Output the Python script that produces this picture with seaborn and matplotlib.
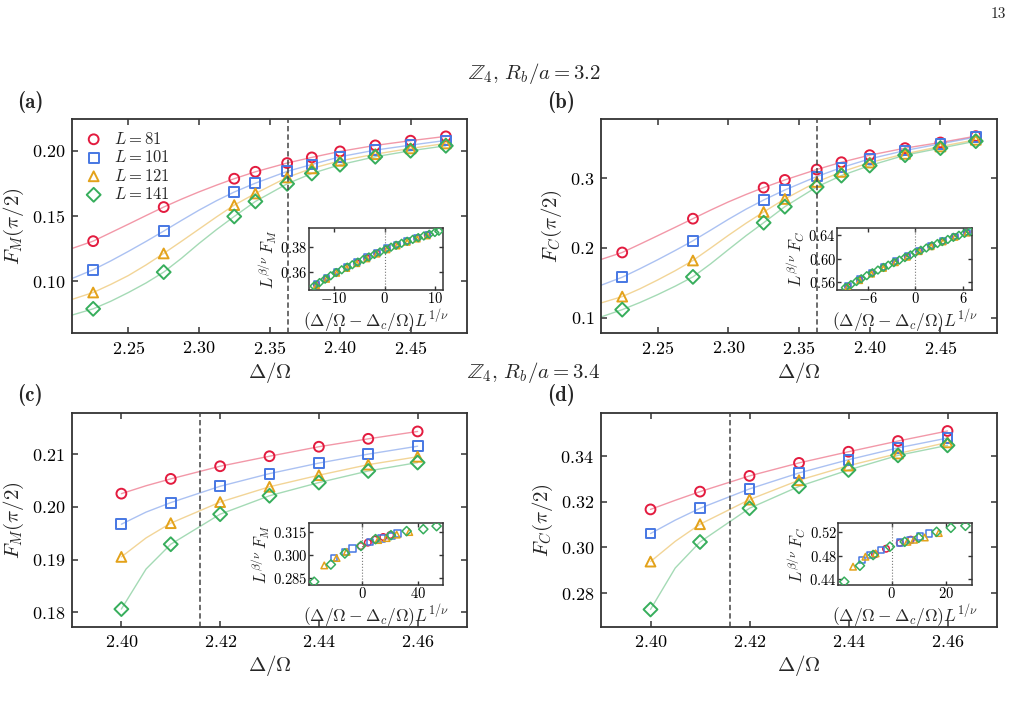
import matplotlib
matplotlib.use("Agg")
import matplotlib.pyplot as plt
import seaborn as sns

# =========================
# data
# =========================
sizes = [81, 101, 121, 141]
colors = ["#E31B3F", "#4677E3", "#E3A21A", "#37AE5C"]
markers = ["o", "s", "^", "D"]

# Z4, Rb/a = 3.2  (panels a, b)
delta_32 = [2.225, 2.275, 2.325, 2.34, 2.3625, 2.38, 2.40, 2.425, 2.45, 2.475]
fm_32 = [
    [0.1308, 0.1569, 0.1786, 0.1839, 0.1906, 0.1949, 0.1995, 0.2041, 0.2077, 0.2110],
    [0.1089, 0.1385, 0.1684, 0.1752, 0.1842, 0.1895, 0.1954, 0.2005, 0.2043, 0.2079],
    [0.0915, 0.1214, 0.1584, 0.1673, 0.1796, 0.1865, 0.1923, 0.1974, 0.2018, 0.2056],
    [0.0790, 0.1071, 0.1497, 0.1612, 0.1747, 0.1826, 0.1893, 0.1954, 0.2000, 0.2038],
]
fc_32 = [
    [0.1935, 0.2420, 0.2866, 0.2976, 0.3125, 0.3230, 0.3331, 0.3432, 0.3513, 0.3604],
    [0.1580, 0.2103, 0.2688, 0.2832, 0.3024, 0.3153, 0.3278, 0.3398, 0.3494, 0.3590],
    [0.1302, 0.1820, 0.2516, 0.2703, 0.2947, 0.3091, 0.3225, 0.3350, 0.3456, 0.3552],
    [0.1115, 0.1585, 0.2362, 0.2592, 0.2875, 0.3038, 0.3182, 0.3331, 0.3432, 0.3532],
]
fit_x_32 = [2.21, 2.225, 2.2375, 2.25, 2.2625, 2.275, 2.2875, 2.30, 2.3125, 2.325, 2.34,
            2.3625, 2.38, 2.40, 2.425, 2.45, 2.475]
fm_fit_32 = [
    [0.1252, 0.1308, 0.1373, 0.1438, 0.1504, 0.1569, 0.1629, 0.1685, 0.1737, 0.1786, 0.1839,
     0.1906, 0.1949, 0.1995, 0.2041, 0.2077, 0.2110],
    [0.1022, 0.1089, 0.1157, 0.1230, 0.1306, 0.1385, 0.1466, 0.1545, 0.1618, 0.1684, 0.1752,
     0.1842, 0.1895, 0.1954, 0.2005, 0.2043, 0.2079],
    [0.0862, 0.0915, 0.0977, 0.1045, 0.1126, 0.1214, 0.1306, 0.1400, 0.1494, 0.1584, 0.1673,
     0.1796, 0.1865, 0.1923, 0.1974, 0.2018, 0.2056],
    [0.0742, 0.0790, 0.0848, 0.0915, 0.0988, 0.1071, 0.1176, 0.1290, 0.1397, 0.1497, 0.1612,
     0.1747, 0.1826, 0.1893, 0.1954, 0.2000, 0.2038],
]
fc_fit_32 = [
    [0.1835, 0.1935, 0.2054, 0.2175, 0.2297, 0.2420, 0.2543, 0.2660, 0.2767, 0.2866, 0.2976,
     0.3125, 0.3230, 0.3331, 0.3432, 0.3513, 0.3604],
    [0.1465, 0.1580, 0.1702, 0.1830, 0.1964, 0.2103, 0.2255, 0.2410, 0.2556, 0.2688, 0.2832,
     0.3024, 0.3153, 0.3278, 0.3398, 0.3494, 0.3590],
    [0.1211, 0.1302, 0.1414, 0.1540, 0.1674, 0.1820, 0.1998, 0.2180, 0.2354, 0.2516, 0.2703,
     0.2947, 0.3091, 0.3225, 0.3350, 0.3456, 0.3552],
    [0.1010, 0.1115, 0.1217, 0.1330, 0.1452, 0.1585, 0.1772, 0.1975, 0.2175, 0.2362, 0.2592,
     0.2875, 0.3038, 0.3182, 0.3331, 0.3432, 0.3532],
]
dc_32 = 2.363

# Z4, Rb/a = 3.4  (panels c, d)
delta_34 = [2.40, 2.41, 2.42, 2.43, 2.44, 2.45, 2.46]
fm_34 = [
    [0.2025, 0.2053, 0.2077, 0.2096, 0.2114, 0.2129, 0.2143],
    [0.1967, 0.2008, 0.2039, 0.2063, 0.2083, 0.2100, 0.2115],
    [0.1905, 0.1969, 0.2009, 0.2038, 0.2060, 0.2080, 0.2095],
    [0.1806, 0.1929, 0.1986, 0.2021, 0.2046, 0.2068, 0.2084],
]
fc_34 = [
    [0.3167, 0.3245, 0.3314, 0.3371, 0.3420, 0.3467, 0.3511],
    [0.3061, 0.3172, 0.3257, 0.3327, 0.3385, 0.3437, 0.3480],
    [0.2938, 0.3102, 0.3210, 0.3295, 0.3359, 0.3412, 0.3461],
    [0.2728, 0.3024, 0.3172, 0.3268, 0.3340, 0.3404, 0.3448],
]
fit_x_34 = [2.40, 2.405, 2.41, 2.42, 2.43, 2.44, 2.45, 2.46]
fm_fit_34 = [
    [0.2025, 0.2040, 0.2053, 0.2077, 0.2096, 0.2114, 0.2129, 0.2143],
    [0.1967, 0.1990, 0.2008, 0.2039, 0.2063, 0.2083, 0.2100, 0.2115],
    [0.1905, 0.1941, 0.1969, 0.2009, 0.2038, 0.2060, 0.2080, 0.2095],
    [0.1806, 0.1882, 0.1929, 0.1986, 0.2021, 0.2046, 0.2068, 0.2084],
]
fc_fit_34 = [
    [0.3167, 0.3207, 0.3245, 0.3314, 0.3371, 0.3420, 0.3467, 0.3511],
    [0.3061, 0.3120, 0.3172, 0.3257, 0.3327, 0.3385, 0.3437, 0.3480],
    [0.2938, 0.3027, 0.3102, 0.3210, 0.3295, 0.3359, 0.3412, 0.3461],
    [0.2728, 0.2910, 0.3024, 0.3172, 0.3268, 0.3340, 0.3404, 0.3448],
]
dc_34 = 2.416

# inset (a): scaling collapse of F_M
ins_a_x = [-14.0, -12.9, -11.8, -10.7, -9.6, -8.5, -7.4, -6.4, -5.3, -4.2, -3.1, -2.0,
           -0.9, 0.2, 1.3, 2.3, 3.4, 4.5, 5.6, 6.7, 7.8, 8.9, 10.0, 10.8]
ins_a_y = [0.3485, 0.3513, 0.3540, 0.3567, 0.3593, 0.3615, 0.3636, 0.3655, 0.3676, 0.3697,
           0.3717, 0.3737, 0.3757, 0.3777, 0.3795, 0.3810, 0.3826, 0.3842, 0.3857, 0.3871,
           0.3884, 0.3898, 0.3912, 0.3922]
ins_a_xo = [-13.5, -11.5, -9.5, -7.5, -5.5, -3.5, -1.5, 0.5, 2.5, 4.5, 6.5, 8.5]
ins_a_red = [0.3498, 0.3547, 0.3595, 0.3634, 0.3672, 0.3710, 0.3748, 0.3782, 0.3813, 0.3842, 0.3868, 0.3893]
ins_a_blue = [0.3505, 0.3554, 0.3601, 0.3640, 0.3678, 0.3716, 0.3753, 0.3787, 0.3817, 0.3846, 0.3871, 0.3896]
ins_a_orange = [0.3490, 0.3539, 0.3587, 0.3626, 0.3664, 0.3702, 0.3740, 0.3774, 0.3805, 0.3834, 0.3860, 0.3885]

# inset (b): scaling collapse of F_C
ins_b_x = [-8.8, -8.1, -7.4, -6.8, -6.1, -5.4, -4.7, -4.0, -3.4, -2.7, -2.0, -1.3,
           -0.6, 0.0, 0.7, 1.4, 2.1, 2.8, 3.4, 4.1, 4.8, 5.5, 6.2, 6.9]
ins_b_y = [0.5509, 0.5561, 0.5613, 0.5659, 0.5711, 0.5760, 0.5806, 0.5850, 0.5888, 0.5931,
           0.5974, 0.6016, 0.6061, 0.6100, 0.6140, 0.6178, 0.6216, 0.6254, 0.6286, 0.6322,
           0.6358, 0.6392, 0.6424, 0.6456]
ins_b_xo = [-8.5, -7.0, -5.5, -4.0, -2.5, -1.0, 0.5, 2.0, 3.5, 5.0, 6.5]
ins_b_red = [0.5532, 0.5643, 0.5753, 0.5850, 0.5944, 0.6035, 0.6129, 0.6211, 0.6291, 0.6368, 0.6438]
ins_b_blue = [0.5546, 0.5657, 0.5766, 0.5862, 0.5955, 0.6045, 0.6138, 0.6219, 0.6298, 0.6374, 0.6443]
ins_b_orange = [0.5518, 0.5628, 0.5738, 0.5835, 0.5930, 0.6022, 0.6117, 0.6200, 0.6281, 0.6359, 0.6430]

# inset (c)
ins_c_x = [
    [-1.0, 4.0, 9.0, 15.0, 20.0],
    [-20.0, -12.4, -7.1, 5.5, 13.9, 21.0, 25.3],
    [-27.1, -18.3, -11.1, 11.4, 17.4, 24.6, 33.6],
    [-34.3, -22.4, -12.4, -0.9, 9.5, 20.5, 31.7, 43.6, 53.1],
]
ins_c_y = [
    [0.3060, 0.3083, 0.3103, 0.3120, 0.3133],
    [0.2981, 0.3020, 0.3044, 0.3088, 0.3110, 0.3127, 0.3143],
    [0.2932, 0.2981, 0.3022, 0.3100, 0.3113, 0.3136, 0.3153],
    [0.2824, 0.2938, 0.3011, 0.3061, 0.3106, 0.3132, 0.3159, 0.3172, 0.3192],
]
# inset (d)
ins_d_x = [
    [-6.0, -2.0, 3.0, 7.0],
    [-10.7, -7.9, -3.9, 3.0, 6.7, 10.4, 13.6],
    [-14.0, -9.5, -5.8, 5.8, 8.2, 12.1, 17.2],
    [-17.2, -11.5, -6.7, -0.6, 4.8, 9.9, 16.4, 21.6, 26.9],
]
ins_d_y = [
    [0.4825, 0.4920, 0.5020, 0.5075],
    [0.4726, 0.4812, 0.4898, 0.5023, 0.5069, 0.5126, 0.5183],
    [0.4612, 0.4783, 0.4840, 0.5039, 0.5074, 0.5113, 0.5189],
    [0.4354, 0.4629, 0.4812, 0.4955, 0.5039, 0.5108, 0.5210, 0.5279, 0.5313],
]

# =========================
# style
# =========================
sns.set_theme(style="ticks")
plt.rcParams.update({
    "font.family": "serif",
    "font.serif": ["cmr10", "DejaVu Serif"],
    "mathtext.fontset": "cm",
    "axes.formatter.use_mathtext": True,
    "axes.formatter.useoffset": False,
    "axes.edgecolor": "#333333",
    "axes.linewidth": 1.3,
    "xtick.direction": "in",
    "ytick.direction": "in",
    "xtick.top": True,
    "ytick.right": True,
    "xtick.color": "#333333",
    "ytick.color": "#333333",
    "xtick.labelcolor": "black",
    "ytick.labelcolor": "black",
})

W, H = 1015, 711
fig = plt.figure(figsize=(W / 100, H / 100), dpi=100)


def box(left, top, right, bottom):
    return [left / W, 1 - bottom / H, (right - left) / W, (bottom - top) / H]


ax_a = fig.add_axes(box(72, 119, 467, 333))
ax_b = fig.add_axes(box(601, 119, 997, 333))
ax_c = fig.add_axes(box(72, 413, 467, 627))
ax_d = fig.add_axes(box(601, 413, 997, 627))


def main_panel(ax, xs, ys, fit_x, fit_ys, dc, legend=False):
    for i in range(4):
        sns.lineplot(x=fit_x, y=fit_ys[i], color=colors[i], alpha=0.45, lw=1.0,
                     estimator=None, legend=False, ax=ax)
    for i in range(4):
        sns.scatterplot(x=xs, y=ys[i], marker=markers[i], s=50, color=colors[i],
                        facecolor="none", edgecolor=colors[i], linewidth=1.4,
                        label=f"$L={sizes[i]}$", legend=False, ax=ax, zorder=3)
    ax.axvline(dc, color="#444444", lw=1.1, ls=(0, (3.5, 2)), zorder=4)
    ax.tick_params(labelsize=13, length=4, width=1.1, pad=5)
    if legend:
        ax.legend(loc="upper left", fontsize=12, frameon=False, handletextpad=0.6,
                  labelspacing=0.15, borderaxespad=0.3, handlelength=1.2)


def inset(ax, rect, series, msize=16):
    ins = ax.inset_axes(rect)
    for x, y, i in series:
        sns.scatterplot(x=x, y=y, marker=markers[i], s=msize, color=colors[i],
                        facecolor="none", edgecolor=colors[i], linewidth=1.1,
                        legend=False, ax=ins, zorder=3)
    ins.axvline(0, color="#777777", lw=0.8, ls=":", zorder=1)
    ins.tick_params(labelsize=10.5, length=3, width=1.0)
    ins.tick_params(axis="x", pad=1)
    ins.tick_params(axis="y", pad=1)
    ins.set_xlabel(r"$(\Delta/\Omega-\Delta_c/\Omega)L^{1/\nu}$", fontsize=12.5, labelpad=1)
    for s in ins.spines.values():
        s.set_linewidth(1.1)
    return ins


# ---- (a)
main_panel(ax_a, delta_32, fm_32, fit_x_32, fm_fit_32, dc_32, legend=True)
ax_a.set_xlim(2.21, 2.49)
ax_a.set_ylim(0.0605, 0.2243)
ax_a.set_xticks([2.25, 2.30, 2.35, 2.40, 2.45])
ax_a.set_yticks([0.10, 0.15, 0.20])
ax_a.set_ylabel(r"$F_M(\pi/2)$", fontsize=15, labelpad=4)
ax_a.set_xlabel(r"$\Delta/\Omega$", fontsize=15, labelpad=2)
ia = inset(ax_a, [0.600, 0.201, 0.339, 0.291],
           [(ins_a_xo, ins_a_red, 0), (ins_a_xo, ins_a_blue, 1),
            (ins_a_xo, ins_a_orange, 2), (ins_a_x, ins_a_y, 3)])
ia.set_xlim(-15, 11.6)
ia.set_ylim(0.3454, 0.395)
ia.set_xticks([-10, 0, 10])
ia.set_yticks([0.36, 0.38])
ia.set_ylabel(r"$L^{\beta/\nu}\,F_M$", fontsize=12, labelpad=1)

# ---- (b)
main_panel(ax_b, delta_32, fc_32, fit_x_32, fc_fit_32, dc_32)
ax_b.set_xlim(2.21, 2.49)
ax_b.set_ylim(0.078, 0.385)
ax_b.set_xticks([2.25, 2.30, 2.35, 2.40, 2.45])
ax_b.set_yticks([0.1, 0.2, 0.3])
ax_b.set_ylabel(r"$F_C(\pi/2)$", fontsize=15, labelpad=4)
ax_b.set_xlabel(r"$\Delta/\Omega$", fontsize=15, labelpad=2)
ib = inset(ax_b, [0.597, 0.201, 0.341, 0.291],
           [(ins_b_xo, ins_b_red, 0), (ins_b_xo, ins_b_blue, 1),
            (ins_b_xo, ins_b_orange, 2), (ins_b_x, ins_b_y, 3)])
ib.set_xlim(-9.8, 7.2)
ib.set_ylim(0.547, 0.652)
ib.set_xticks([-6, 0, 6])
ib.set_yticks([0.56, 0.60, 0.64])
ib.set_ylabel(r"$L^{\beta/\nu}\,F_C$", fontsize=12, labelpad=1)

# ---- (c)
main_panel(ax_c, delta_34, fm_34, fit_x_34, fm_fit_34, dc_34)
ax_c.set_xlim(2.39, 2.47)
ax_c.set_ylim(0.1772, 0.2178)
ax_c.set_xticks([2.40, 2.42, 2.44, 2.46])
ax_c.set_yticks([0.18, 0.19, 0.20, 0.21])
ax_c.set_ylabel(r"$F_M(\pi/2)$", fontsize=15, labelpad=4)
ax_c.set_xlabel(r"$\Delta/\Omega$", fontsize=15, labelpad=2)
ic = inset(ax_c, [0.600, 0.196, 0.339, 0.288],
           [(ins_c_x[i], ins_c_y[i], i) for i in range(4)], msize=22)
ic.set_xlim(-38, 57.6)
ic.set_ylim(0.2802, 0.321)
ic.set_xticks([0, 40])
ic.set_yticks([0.285, 0.300, 0.315])
ic.set_ylabel(r"$L^{\beta/\nu}\,F_M$", fontsize=12, labelpad=1)

# ---- (d)
main_panel(ax_d, delta_34, fc_34, fit_x_34, fc_fit_34, dc_34)
ax_d.set_xlim(2.39, 2.47)
ax_d.set_ylim(0.2651, 0.359)
ax_d.set_xticks([2.40, 2.42, 2.44, 2.46])
ax_d.set_yticks([0.28, 0.30, 0.32, 0.34])
ax_d.set_ylabel(r"$F_C(\pi/2)$", fontsize=15, labelpad=4)
ax_d.set_xlabel(r"$\Delta/\Omega$", fontsize=15, labelpad=2)
idd = inset(ax_d, [0.599, 0.196, 0.338, 0.288],
            [(ins_d_x[i], ins_d_y[i], i) for i in range(4)], msize=22)
idd.set_xlim(-19.4, 29.3)
idd.set_ylim(0.4297, 0.5354)
idd.set_xticks([0, 20])
idd.set_yticks([0.44, 0.48, 0.52])
idd.set_ylabel(r"$L^{\beta/\nu}\,F_C$", fontsize=12, labelpad=1)

# ---- titles and panel labels
fig.text(534 / W, 1 - 74 / H, r"$\mathbb{Z}_4,\,R_b/a=3.2$", fontsize=15, ha="center", va="center")
fig.text(534 / W, 1 - 372 / H, r"$\mathbb{Z}_4,\,R_b/a=3.4$", fontsize=15, ha="center", va="center")
for label, x, y in [("(a)", 17, 102), ("(b)", 547, 102), ("(c)", 17, 395), ("(d)", 547, 395)]:
    fig.text(x / W, 1 - y / H, label, fontsize=15, family=["cmb10", "DejaVu Serif"],
             ha="left", va="center")
fig.text(1006 / W, 1 - 14 / H, "13", fontsize=11, ha="right", va="center")

fig.savefig("out.png", dpi=100)
